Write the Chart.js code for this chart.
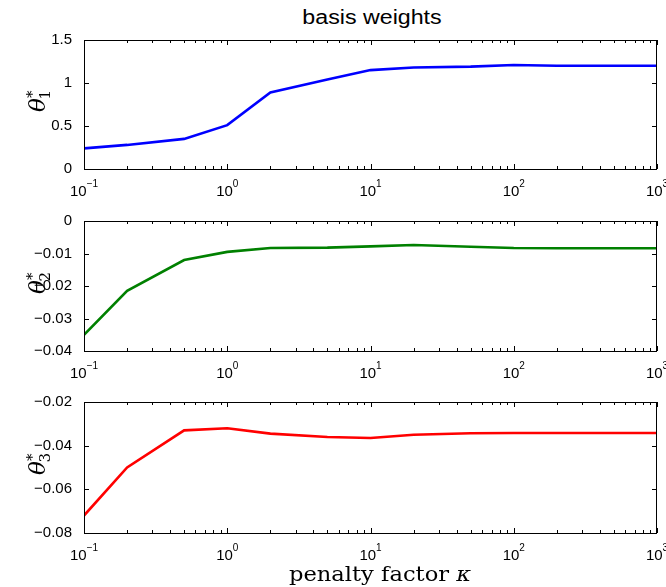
<!DOCTYPE html>
<html>
<head>
<meta charset="utf-8">
<script src="https://cdn.jsdelivr.net/npm/chart.js@4"></script>
<style>
  body { margin: 0; background: #fff; }
  #page { position: relative; width: 666px; height: 587px; overflow: hidden; background: #fff; }
  .panel { position: absolute; left: 0; width: 666px; }
  .ylab { position: absolute; font-family: "DejaVu Serif", serif; font-style: italic; font-size: 23px;
          transform: translate(-50%, -50%) rotate(-90deg); white-space: nowrap; }
  .ylab sup { font-style: normal; font-size: 15px; vertical-align: 8px; }
  .ylab sub { font-style: normal; font-size: 15px; vertical-align: -5px; margin-left: -9px; }
  #title { position: absolute; top: 6px; left: 372px; transform: translateX(-50%) scaleX(1.16);
           font-family: "Liberation Sans", Arial, sans-serif; font-size: 20px; white-space: nowrap; }
  #xlab { position: absolute; top: 562px; left: 380px; transform: translateX(-50%) scaleX(1.13);
          font-family: "DejaVu Serif", serif; font-size: 20px; white-space: nowrap; }
</style>
</head>
<body>
<div id="page">
  <div id="title">basis weights</div>
  <div class="panel" style="top:30px;height:169px"><canvas id="c1"></canvas></div>
  <div class="panel" style="top:211px;height:170px"><canvas id="c2"></canvas></div>
  <div class="panel" style="top:392px;height:171px"><canvas id="c3"></canvas></div>
  <div class="ylab" style="left:38px;top:101px">θ<sup>*</sup><sub>1</sub></div>
  <div class="ylab" style="left:38px;top:283px">θ<sup>*</sup><sub>2</sub></div>
  <div class="ylab" style="left:38px;top:464px">θ<sup>*</sup><sub>3</sub></div>
  <div id="xlab">penalty factor <i>κ</i></div>
</div>
<script>
// penalty factor values (log axis)
const kappa = [0.1, 0.2, 0.5, 1, 2, 5, 10, 20, 50, 100, 200, 500, 1000];

// basis weights
const theta1 = [0.24, 0.28, 0.35, 0.51, 0.89, 1.04, 1.15, 1.18, 1.19, 1.21, 1.20, 1.20, 1.20];
const theta2 = [-0.035, -0.0215, -0.012, -0.0095, -0.0083, -0.0082, -0.0078, -0.0074, -0.0079, -0.0083, -0.0084, -0.0084, -0.0084];
const theta3 = [-0.072, -0.050, -0.033, -0.032, -0.0345, -0.036, -0.0365, -0.035, -0.0343, -0.0342, -0.0342, -0.0342, -0.0342];

// x tick labels: 10 raised to these powers
const xTickValues = [0.1, 1, 10, 100, 1000];
const xTickExps = ['\u22121', '0', '1', '2', '3'];

const fontFamily = '"Liberation Sans", Arial, sans-serif';
const tickFont = {family: fontFamily, size: 15};

// box round the axes, matlab style inward ticks, and the 10^k labels
const frame = {
    id: 'frame',
    afterDraw(chart) {
        const {ctx, chartArea: a, scales: {x, y}} = chart;
        ctx.save();
        ctx.strokeStyle = '#000';
        ctx.lineWidth = 1;
        ctx.strokeRect(a.left + 0.5, a.top + 0.5, a.right - a.left - 1, a.bottom - a.top);
        ctx.beginPath();
        for (let k = -1; k <= 3; k++) {
            for (let m = 1; m <= 9; m++) {
                const v = m * Math.pow(10, k);
                if (v > 1000.0001) break;
                const px = Math.round(x.getPixelForValue(v)) + 0.5;
                const len = m === 1 ? 5 : 3;
                ctx.moveTo(px, a.bottom); ctx.lineTo(px, a.bottom - len);
                ctx.moveTo(px, a.top); ctx.lineTo(px, a.top + len);
            }
        }
        y.ticks.forEach(t => {
            const py = Math.round(y.getPixelForValue(t.value)) + 0.5;
            ctx.moveTo(a.left, py); ctx.lineTo(a.left + 5, py);
            ctx.moveTo(a.right, py); ctx.lineTo(a.right - 5, py);
        });
        ctx.stroke();

        ctx.fillStyle = '#000';
        ctx.textBaseline = 'alphabetic';
        ctx.textAlign = 'left';
        xTickValues.forEach((v, i) => {
            const px = x.getPixelForValue(v);
            ctx.font = '15px ' + fontFamily;
            const wBase = ctx.measureText('10').width;
            ctx.font = '10px ' + fontFamily;
            const wExp = ctx.measureText(xTickExps[i]).width;
            const x0 = px - (wBase + wExp) / 2;
            ctx.font = '15px ' + fontFamily;
            ctx.fillText('10', x0, a.bottom + 27);
            ctx.font = '10px ' + fontFamily;
            ctx.fillText(xTickExps[i], x0 + wBase, a.bottom + 18);
        });
        ctx.restore();
    }
};

function fmt(v) {
    return String(+v.toFixed(3)).replace('-', '\u2212');
}

function makeChart(id, values, color, yMin, yMax, step) {
    return new Chart(document.getElementById(id), {
        type: 'line',
        data: {
            labels: kappa,
            datasets: [{
                data: kappa.map((k, i) => ({x: k, y: values[i]})),
                borderColor: color,
                borderWidth: 2.6,
                pointRadius: 0,
                tension: 0,
                fill: false
            }]
        },
        options: {
            responsive: true,
            maintainAspectRatio: false,
            animation: false,
            layout: {padding: {top: 10, right: 9, left: 0, bottom: 0}},
            plugins: {legend: {display: false}, tooltip: {enabled: false}},
            scales: {
                x: {
                    type: 'logarithmic',
                    min: 0.1,
                    max: 1000,
                    grid: {display: false},
                    border: {display: false},
                    ticks: {display: false},
                    afterFit(s) { s.height = 30; s.paddingLeft = 0; s.paddingRight = 0; }
                },
                y: {
                    min: yMin,
                    max: yMax,
                    grid: {display: false},
                    border: {display: false},
                    ticks: {
                        stepSize: step,
                        color: '#000',
                        font: tickFont,
                        padding: 4,
                        callback: v => fmt(v)
                    },
                    afterFit(s) { s.width = 84; s.paddingTop = 0; s.paddingBottom = 0; }
                }
            }
        },
        plugins: [frame]
    });
}

makeChart('c1', theta1, '#0000ff', 0, 1.5, 0.5);
makeChart('c2', theta2, '#008000', -0.04, 0, 0.01);
makeChart('c3', theta3, '#ff0000', -0.08, -0.02, 0.02);
</script>
</body>
</html>
